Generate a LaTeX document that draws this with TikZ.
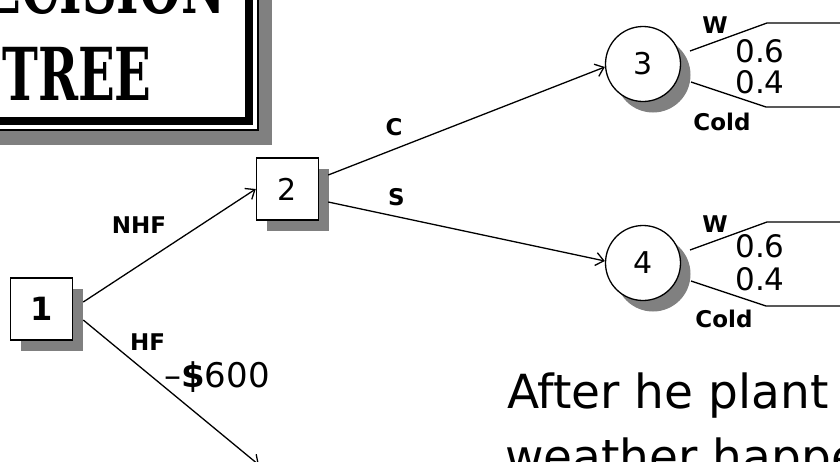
\documentclass[tikz,border=0pt]{standalone}
\usepackage{fontspec}
\setmainfont{DejaVu Sans}
\newfontfamily\titlefont{DejaVu Serif}
\newfontfamily\labelfont{DejaVu Sans}
\usetikzlibrary{arrows.meta,calc,shadows}
\begin{document}
\begin{tikzpicture}[x=1pt,y=-1pt,
  shade/.style={fill=black!50},
  dbox/.style={draw, line width=1.5pt, fill=white, minimum size=62pt, inner sep=0pt,
    drop shadow={shadow xshift=10pt, shadow yshift=-11pt, opacity=1, fill=black!50}},
  chance/.style={draw, circle, line width=1.3pt, fill=white, minimum size=75pt, inner sep=0pt,
    drop shadow={shadow xshift=10pt, shadow yshift=-11pt, opacity=1, fill=black!50}},
  arr/.style={line width=1.3pt, -{Straight Barb[length=8pt,width=13pt,line width=1.3pt]}},
  branch/.style={line width=1.3pt},
  lbl/.style={font=\labelfont\bfseries\fontsize{23}{23}\selectfont, inner sep=0pt, anchor=base},
  num/.style={font=\fontsize{31}{31}\selectfont, inner sep=0pt, anchor=base},
  ttl/.style={font=\titlefont\bfseries\fontsize{73}{73}\selectfont, inner sep=0pt, anchor=base},
  body/.style={font=\fontsize{47}{47}\selectfont, inner sep=0pt, anchor=base west}
]
\useasboundingbox (0,0) rectangle (840,461);
\clip (0,0) rectangle (840,461);

% title frame
\fill[shade] (-40,-40) rectangle (272,145);
\filldraw[fill=white, line width=2pt] (-50,-50) rectangle (258,130);
\draw[line width=8pt] (-50,-50) rectangle (249,121);
\node[ttl] (tdec) at (84,13) {\scalebox{0.66}[1]{DECISION}};
\node[ttl] (ttree) at (77,100) {\scalebox{0.66}[1]{TREE}};

% decision and chance nodes
\node[dbox, font=\labelfont\bfseries\fontsize{32}{32}\selectfont] (n1) at (41.5,309) {1};
\node[dbox, font=\fontsize{30}{30}\selectfont] (n2) at (287.5,189) {2};
\node[chance, font=\fontsize{30}{30}\selectfont] (n3) at (643,64) {3};
\node[chance, font=\fontsize{30}{30}\selectfont] (n4) at (643,263) {4};

% connectors
\coordinate (hfend) at (259,465);
\draw[arr] ([shift={(10,-7)}]n1.east) -- (n2.west);
\draw[arr] ([shift={(10,11)}]n1.east) -- (hfend);
\draw[arr] ([shift={(9,-14)}]n2.east) -- ([yshift=-3pt]n3.west);
\draw[arr] ([shift={(9,13)}]n2.east) -- ([yshift=2pt]n4.west);

% outcome branches
\foreach \n in {n3,n4}{
  \coordinate (\n ua) at ($(\n)+(47,-13)$);
  \coordinate (\n ub) at ($(\n)+(124,-41)$);
  \coordinate (\n uc) at ($(\n)+(210,-41)$);
  \coordinate (\n la) at ($(\n)+(48,18)$);
  \coordinate (\n lb) at ($(\n)+(123,43)$);
  \coordinate (\n lc) at ($(\n)+(210,43)$);
  \draw[branch] (\n ua) -- (\n ub) -- (\n uc);
  \draw[branch] (\n la) -- (\n lb) -- (\n lc);
}

% labels
\node[lbl] (lnhf) at (139,233) {NHF};
\node[lbl] (lhf) at (147.5,350) {HF};
\node[font=\fontsize{34}{34}\selectfont, inner sep=0pt, anchor=base] (lcost) at (217,387) {–{\bfseries\$}600};
\node[lbl] (lc) at (394,135) {C};
\node[lbl] (ls) at (396.5,205) {S};

\node[lbl] (w3) at (715,33) {W};
\node[num] (p3a) at (760,62) {0.6};
\node[num] (p3b) at (760,93) {0.4};
\node[lbl] (c3) at (722,130) {Cold};

\node[lbl] (w4) at (715,232) {W};
\node[num] (p4a) at (760,257) {0.6};
\node[num] (p4b) at (760,290) {0.4};
\node[lbl] (c4) at (724,327) {Cold};

% text
\node[body] (t1) at (507,408) {After he plant};
\node[body] (t2) at (505,473) {weather happe};
\end{tikzpicture}
\end{document}
